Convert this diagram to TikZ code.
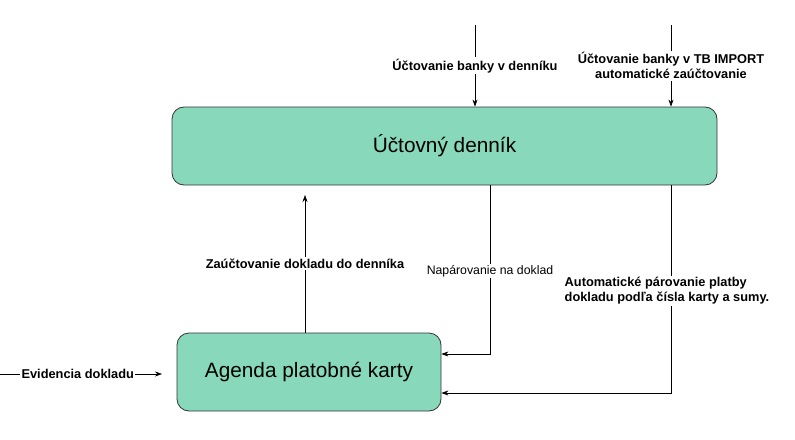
\documentclass[tikz,border=0pt]{standalone}
\usepackage{fontspec}
\setmainfont{Liberation Sans}
\usetikzlibrary{arrows.meta}
\begin{document}
\begin{tikzpicture}[x=1pt,y=-1pt,
  box/.style={draw=black!80,fill=boxc,rounded corners=12pt,line width=0.8pt},
  lbl/.style={fill=white,font=\bfseries\fontsize{12.8}{15}\selectfont,inner sep=1.5pt},
  arr/.style={-{Stealth[length=7pt,width=5pt]},line width=0.6pt}]
\definecolor{boxc}{HTML}{88D8BC}
\useasboundingbox (0,0) rectangle (795,439);
\node[box,minimum width=545pt,minimum height=78pt,font=\fontsize{20.8}{24}\selectfont] (den) at (444.5,146) {Účtovný denník};
\node[box,minimum width=264pt,minimum height=78pt,font=\fontsize{20.8}{24}\selectfont] (ag) at (309,372) {Agenda platobné karty};
\coordinate (t1) at (475,25); \coordinate (t2) at (671,25);
\draw[arr] (t1) -- (t1 |- den.north) node[lbl,pos=0.5] {Účtovanie banky v denníku};
\draw[arr] (t2) -- (t2 |- den.north) node[lbl,pos=0.5,align=center] {Účtovanie banky v TB IMPORT\\automatické zaúčtovanie};
\draw[arr] (ag.north -| 305,0) -- (305,195) node[lbl,pos=0.5] {Zaúčtovanie dokladu do denníka};
\coordinate (c1) at (490,354); \coordinate (c2) at (671,393);
\draw[arr] (490,185) -- (c1) -- (ag.east |- c1);
\node[fill=white,font=\fontsize{12.3}{14}\selectfont,inner sep=1.5pt] (np) at (490,271) {Napárovanie na doklad};
\draw[arr] (671,185) -- (c2) -- (ag.east |- c2);
\node[lbl,align=left,anchor=west] (ap) at (563,291) {Automatické párovanie platby\\dokladu podľa čísla karty a sumy.};
\coordinate (l0) at (0,374);
\draw[arr] (l0) -- (162,374) node[lbl,pos=0.48] {Evidencia dokladu};
\end{tikzpicture}
\end{document}
